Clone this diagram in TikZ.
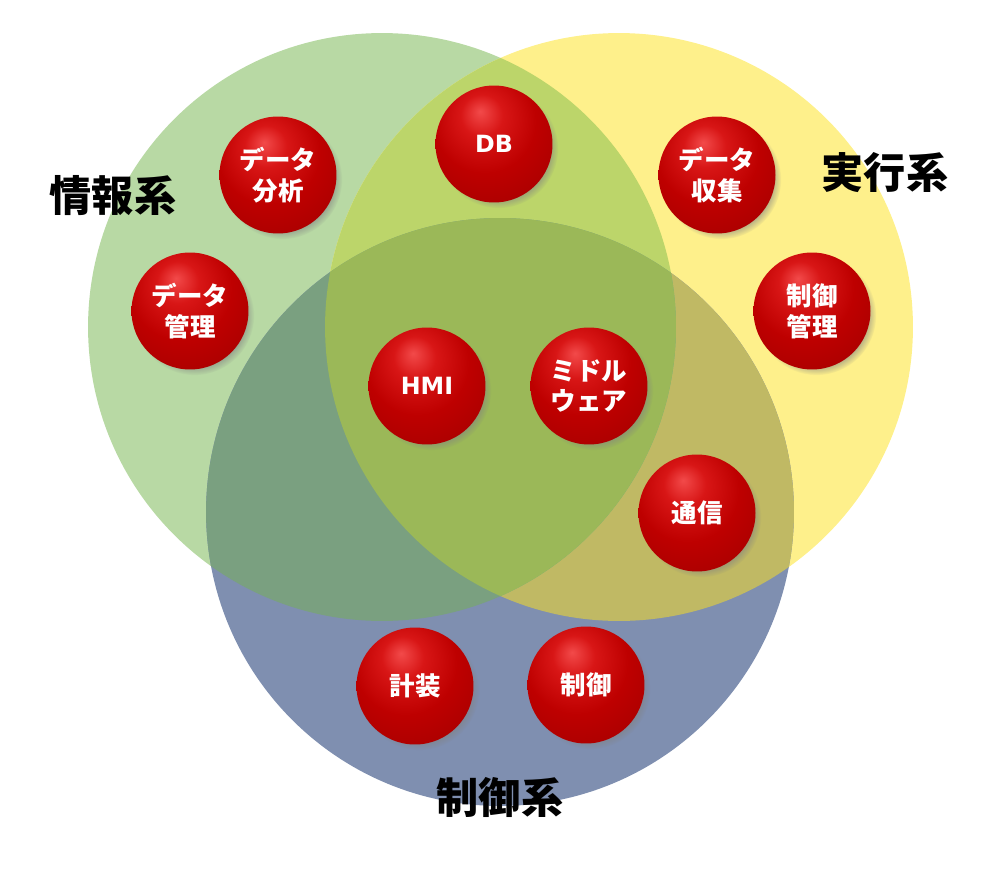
\documentclass[tikz,border=0pt]{standalone}
\usepackage{fontspec}
\setmainfont{Noto Sans CJK JP}
\newfontfamily\latinfont{DejaVu Sans}
\usepackage{xcolor}
\usepackage{tikz}
\usetikzlibrary{shadows,fadings}

\definecolor{infoonly}{HTML}{B8D9A4}
\definecolor{execonly}{HTML}{FEF08B}
\definecolor{ctrlonly}{HTML}{7F8FB0}
\definecolor{infoexec}{HTML}{BCD56A}
\definecolor{infoctrl}{HTML}{7AA080}
\definecolor{execctrl}{HTML}{C0B964}
\definecolor{allthree}{HTML}{9BB858}
\definecolor{ballhi}{HTML}{F24A4A}
\definecolor{balllight}{HTML}{D81616}
\definecolor{ballmid}{HTML}{BE0000}
\definecolor{balldark}{HTML}{A40000}
\definecolor{balledge}{HTML}{7E0000}
\definecolor{ballrim}{HTML}{560000}

\pgfdeclareradialshading{redsphere}{\pgfpoint{-6bp}{14bp}}{%
  color(0bp)=(ballhi); color(9bp)=(balllight); color(22bp)=(ballmid);
  color(40bp)=(balldark); color(52bp)=(balledge); color(60bp)=(ballrim);
  color(70bp)=(ballrim)}

\newcommand{\ringr}{5.88cm}

\begin{document}
\begin{tikzpicture}[x=0.02cm, y=-0.02cm,
    sphere/.style={circle, minimum size=2.34cm, inner sep=0pt, shading=redsphere,
      circular drop shadow={shadow xshift=2.5pt, shadow yshift=-2.5pt, shadow scale=1.02, opacity=.6},
      text=white, align=center, font=\bfseries\fontsize{14.5}{17.5}\selectfont},
    latin/.style={font=\latinfont\bfseries\fontsize{13.5}{16}\selectfont},
    grouplabel/.style={font=\bfseries\fontsize{24}{27}\selectfont, text=black}]
        \useasboundingbox (0,0) rectangle (1000,875);

        % the three systems
        \coordinate (info) at (382,327);
        \coordinate (exec) at (619,327);
        \coordinate (ctrl) at (500,512);

        \fill[infoonly] (info) circle[radius=\ringr];
        \fill[execonly] (exec) circle[radius=\ringr];
        \fill[ctrlonly] (ctrl) circle[radius=\ringr];
        \begin{scope}
            \clip (exec) circle[radius=\ringr];
            \fill[execctrl] (ctrl) circle[radius=\ringr];
        \end{scope}
        \begin{scope}
            \clip (info) circle[radius=\ringr];
            \fill[infoexec] (exec) circle[radius=\ringr];
            \fill[infoctrl] (ctrl) circle[radius=\ringr];
            \clip (exec) circle[radius=\ringr];
            \fill[allthree] (ctrl) circle[radius=\ringr];
        \end{scope}

        % group labels
        \node[grouplabel] (infolabel) at (113,196) {情報系};
        \node[grouplabel] (execlabel) at (885,173) {実行系};
        \node[grouplabel] (ctrllabel) at (500,797) {制御系};

        % functions
        \node[sphere] (analysis) at (278,175) {データ\\分析};
        \node[sphere, latin] (db) at (494,144) {DB};
        \node[sphere] (collect) at (717,175) {データ\\収集};
        \node[sphere] (datamgmt) at (190,311) {データ\\管理};
        \node[sphere] (ctrlmgmt) at (812,311) {制御\\管理};
        \node[sphere, latin] (hmi) at (427,386) {HMI};
        \node[sphere] (middle) at (589,386) {ミドル\\ウェア};
        \node[sphere] (comm) at (697,513) {通信};
        \node[sphere] (instr) at (415,686) {計装};
        \node[sphere] (control) at (586,685) {制御};
    \end{tikzpicture}
\end{document}
